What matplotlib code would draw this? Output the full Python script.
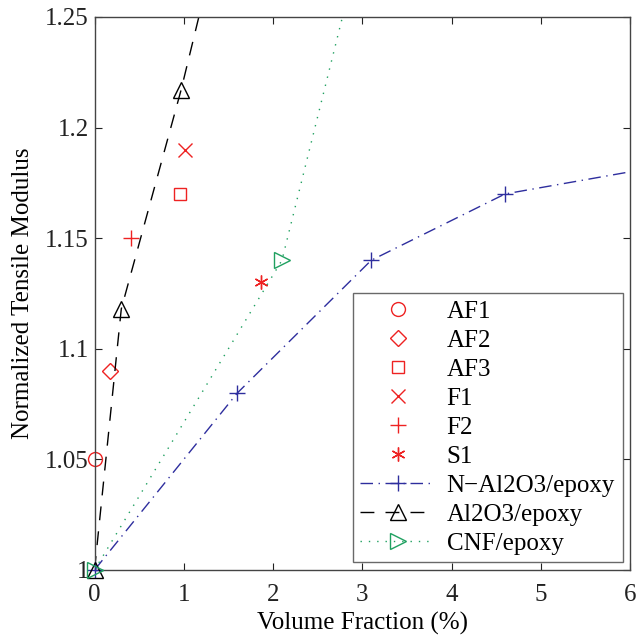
import matplotlib
matplotlib.use("Agg")
import matplotlib.pyplot as plt

plt.rcParams['font.family'] = ['Liberation Serif', 'DejaVu Serif']

# Scatter data (red markers)
af1_x, af1_y = [0.0], [1.05]
af2_x, af2_y = [0.17], [1.09]
af3_x, af3_y = [0.96], [1.17]
f1_x, f1_y = [1.01], [1.19]
f2_x, f2_y = [0.41], [1.15]
s1_x, s1_y = [1.87], [1.13]

# Line series
n_al2o3_x = [0.0, 1.6, 3.1, 4.6, 6.0]
n_al2o3_y = [1.0, 1.08, 1.14, 1.17, 1.18]
al2o3_x = [0.0, 0.3, 0.97, 1.5]
al2o3_y = [1.0, 1.118, 1.217, 1.305]
cnf_x = [0.0, 2.1, 3.0]
cnf_y = [1.0, 1.14, 1.286]

xticks = [0, 1, 2, 3, 4, 5, 6]
yticks = [1.0, 1.05, 1.1, 1.15, 1.2, 1.25]
ytick_labels = ['1', '1.05', '1.1', '1.15', '1.2', '1.25']

red = '#ee2222'
blue = '#2e2e9e'
green = '#1fa060'

fig = plt.figure(figsize=(6.36, 6.36), dpi=100)
ax = fig.add_axes([0.1486, 0.1038, 0.842, 0.8695])

ms = 10
fs = 18

ax.plot(af1_x, af1_y, linestyle='none', marker='o', mfc='none', mec=red, ms=ms, mew=1.0, label='AF1', clip_on=False)
ax.plot(af2_x, af2_y, linestyle='none', marker='D', mfc='none', mec=red, ms=ms*0.8, mew=1.0, label='AF2', clip_on=False)
ax.plot(af3_x, af3_y, linestyle='none', marker='s', mfc='none', mec=red, ms=ms*0.85, mew=1.0, label='AF3', clip_on=False)
ax.plot(f1_x, f1_y, linestyle='none', marker='x', color=red, ms=ms, mew=1.0, label='F1', clip_on=False)
ax.plot(f2_x, f2_y, linestyle='none', marker='+', color=red, ms=ms*1.1, mew=1.0, label='F2', clip_on=False)
ax.plot(s1_x, s1_y, linestyle='none', marker=(6, 2, 0), color=red, ms=ms, mew=1.0, label='S1', clip_on=False)

series = [
    (n_al2o3_x, n_al2o3_y, blue, (0, (9, 4, 1, 4)), '+', 'N\u2212Al2O3/epoxy', 4, 'full'),
    (al2o3_x, al2o3_y, 'black', (0, (10, 8)), '^', 'Al2O3/epoxy', 3, 'none'),
    (cnf_x, cnf_y, green, (0, (1, 5)), '>', 'CNF/epoxy', 2, 'none'),
]
for xs, ys, col, ls, mk, lab, nm, fill in series:
    ax.plot(xs, ys, color=col, linestyle=ls, lw=1.0)
    kw = dict(mfc='none') if fill == 'none' else {}
    ax.plot(xs[:nm], ys[:nm], linestyle='none', marker=mk, color=col, ms=ms*1.15, mew=1.0,
            clip_on=False, zorder=3, **kw)
    # legend proxy
    ax.plot([], [], color=col, linestyle=ls, lw=1.0, marker=mk, ms=ms*1.15, mew=1.0, label=lab, **kw)

ax.set_xlim(0, 6)
ax.set_ylim(1.0, 1.25)
ax.set_xticks(xticks)
ax.set_xticklabels([str(t) for t in xticks])
ax.set_yticks(yticks)
ax.set_yticklabels(ytick_labels)
ax.tick_params(direction='in', top=True, right=True, length=5, width=0.8, labelsize=fs, colors='#222222')
ax.tick_params(axis='x', pad=10)
ax.tick_params(axis='y', pad=4)
for sp in ax.spines.values():
    sp.set_linewidth(1.0)
    sp.set_color('#444444')

ax.set_xlabel('Volume Fraction (%)', fontsize=fs, labelpad=4)
ax.set_ylabel('Normalized Tensile Modulus', fontsize=fs, labelpad=8)

leg = ax.legend(loc='lower right', fontsize=fs, frameon=True, fancybox=False,
                edgecolor='#444444', handlelength=3.0, handletextpad=0.45,
                labelspacing=0.26, borderpad=0.3, borderaxespad=0.3)
leg.get_frame().set_linewidth(1.0)

fig.savefig('out.png', dpi=100)
